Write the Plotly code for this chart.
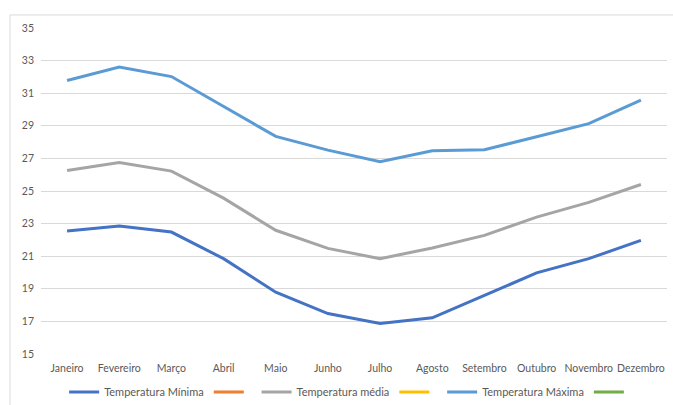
import plotly.graph_objects as go

meses = ["Janeiro", "Fevereiro", "Março", "Abril", "Maio", "Junho", "Julho",
         "Agosto", "Setembro", "Outubro", "Novembro", "Dezembro"]
t_min = [22.55, 22.85, 22.48, 20.85, 18.79, 17.48, 16.87, 17.22, 18.59, 19.98, 20.85, 21.97]
t_med = [26.26, 26.75, 26.22, 24.56, 22.59, 21.48, 20.85, 21.50, 22.28, 23.40, 24.30, 25.40]
t_max = [31.78, 32.60, 32.02, 30.18, 28.35, 27.51, 26.80, 27.47, 27.53, 28.33, 29.13, 30.57]
y_ticks = [15, 17, 19, 21, 23, 25, 27, 29, 31, 33, 35]

fig = go.Figure()
fig.add_trace(go.Scatter(x=meses, y=t_min, mode="lines", name="Temperatura Mínima",
                         line=dict(color="#4472C4", width=3)))
fig.add_trace(go.Scatter(x=[None], y=[None], mode="lines", name=" ",
                         line=dict(color="#ED7D31", width=3)))
fig.add_trace(go.Scatter(x=meses, y=t_med, mode="lines", name="Temperatura média",
                         line=dict(color="#A5A5A5", width=3)))
fig.add_trace(go.Scatter(x=[None], y=[None], mode="lines", name=" ",
                         line=dict(color="#FFC000", width=3)))
fig.add_trace(go.Scatter(x=meses, y=t_max, mode="lines", name="Temperatura Máxima",
                         line=dict(color="#5B9BD5", width=3)))
fig.add_trace(go.Scatter(x=[None], y=[None], mode="lines", name=" ",
                         line=dict(color="#70AD47", width=3)))

fig.update_layout(
    width=673, height=405,
    margin=dict(l=41, r=6, t=28, b=51, autoexpand=False),
    paper_bgcolor="white", plot_bgcolor="white",
    font=dict(family="Lato, Open Sans, sans-serif", size=11, color="#595959"),
    xaxis=dict(type="category", categoryorder="array", categoryarray=meses,
               range=[-0.5, 11.5], showgrid=False, zeroline=False, showline=False,
               ticks="", tickangle=0, automargin=False, ticklabelstandoff=6,
               tickfont=dict(size=10.5, color="#595959")),
    yaxis=dict(range=[15, 35], tickvals=y_ticks, showgrid=True, gridcolor="#D9D9D9",
               gridwidth=1, zeroline=False, showline=False, ticks="", automargin=False,
               tickfont=dict(size=10.5, color="#595959"), ticklabelstandoff=6),
    legend=dict(orientation="h", xref="container", yref="container",
                x=0.521, xanchor="center", y=0.032, yanchor="middle",
                font=dict(size=11, color="#595959"), itemwidth=30, traceorder="normal"),
    showlegend=True,
    shapes=[
        dict(type="line", xref="paper", yref="paper", x0=-0.0495, x1=1.1, y0=1.04, y1=1.04,
             line=dict(color="#D9D9D9", width=1)),
        dict(type="line", xref="paper", yref="paper", x0=-0.0495, x1=-0.0495, y0=1.04, y1=-0.3,
             line=dict(color="#D9D9D9", width=1)),
    ],
)

fig.write_html("out.html")
